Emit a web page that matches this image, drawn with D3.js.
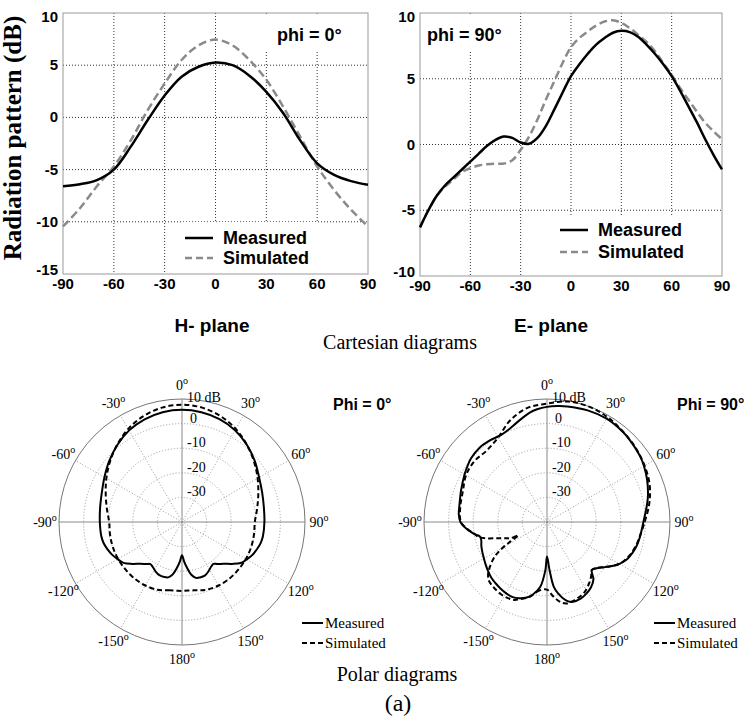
<!DOCTYPE html>
<html><head><meta charset="utf-8">
<script src="https://cdn.jsdelivr.net/npm/d3@7"></script>
<style>body{margin:0;background:#fff;} svg{display:block;}</style>
</head><body>
<svg id="chart" width="744" height="723"></svg>
<script>
// ---------- Cartesian data ----------
const hAngles = [-90,-80,-70,-60,-50,-40,-30,-20,-10,0,10,20,30,40,50,60,70,80,90];
const hMeasured = [-6.6,-6.4,-6.0,-5.0,-2.8,-0.25,2.1,3.9,4.85,5.25,5.0,4.0,2.45,0.4,-2.2,-4.4,-5.5,-6.1,-6.45];
const hSimulated = [-10.45,-8.7,-6.6,-4.7,-2.2,0.7,3.25,5.5,6.9,7.45,6.9,5.5,3.6,1.0,-1.85,-4.7,-6.95,-8.85,-10.45];

const eAngles = [-90,-85,-80,-75,-70,-65,-60,-55,-50,-45,-40,-35,-30,-25,-20,-15,-10,-5,0,5,10,15,20,25,30,35,40,45,50,55,60,65,70,75,80,85,90];
const eMeasured = [-6.3,-5.0,-3.9,-3.1,-2.5,-1.9,-1.3,-0.7,-0.1,0.35,0.6,0.5,0.15,0.05,0.5,1.4,2.65,3.95,5.2,6.1,6.9,7.6,8.1,8.5,8.65,8.55,8.2,7.6,6.9,6.1,5.2,4.1,2.9,1.7,0.4,-0.8,-1.9];
const eSimulated = [-6.3,-5.0,-3.9,-3.2,-2.65,-2.1,-1.8,-1.6,-1.5,-1.45,-1.45,-1.2,-0.4,0.6,1.9,3.4,4.8,6.2,7.4,8.1,8.6,9.05,9.35,9.45,9.25,8.85,8.35,7.8,7.1,6.2,5.3,4.3,3.4,2.5,1.65,1.0,0.4];

const xTicks = [-90,-60,-30,0,30,60,90];
const hYTicks = [10,5,0,-5,-10,-15];
const eYTicks = [10,5,0,-5,-10];

// ---------- Polar data ----------
const hpAngles = [-177,-174,-170,-166,-162,-157,-152,-147,-143,-140,-135,-130,-125,-120,-115,-110,-105,-100,-90,-80,-70,-60,-50,-40,-30,-20,-10,0,10,20,30,40,50,60,70,80,90,100,105,110,115,120,125,130,135,140,143,147,152,157,162,166,170,174,177,180];
const hpMeasured = [-24,-21.5,-18.4,-16.8,-16.5,-16.5,-17.2,-18.2,-18.6,-17.7,-16.0,-13.5,-11.0,-9.8,-8.6,-7.7,-7.0,-6.7,-6.6,-6.2,-5.3,-3.6,-1.4,0.9,3.0,4.4,5.3,5.6,5.3,4.5,3.1,1.0,-1.4,-3.8,-5.3,-6.2,-6.5,-6.6,-6.9,-7.6,-8.4,-9.6,-10.9,-13.5,-16.0,-17.7,-18.7,-18.3,-17.2,-16.3,-16.3,-16.6,-18.2,-21.5,-24,-26.5];

const hpsAngles = [-175,-170,-165,-160,-150,-140,-130,-120,-110,-100,-90,-80,-70,-60,-50,-40,-30,-20,-10,0,10,20,30,40,50,60,70,80,90,100,110,120,130,140,150,160,165,170,175,180];
const hpSimulated = [-12.0,-11.8,-11.3,-10.7,-10.2,-10.0,-10.0,-10.0,-10.1,-10.3,-10.4,-9.0,-7.0,-4.5,-1.8,1.0,3.7,5.8,7.2,7.7,7.2,5.8,3.7,1.0,-1.8,-4.5,-7.0,-9.0,-10.4,-10.3,-10.1,-10.0,-10.0,-10.0,-10.2,-10.7,-11.3,-11.8,-12.0,-12.0];

const epAngles = [-178,-174,-169,-165,-160,-155,-150,-145,-140,-135,-130,-125,-120,-115,-110,-105,-102,-100,-97,-95,-90,-85,-80,-74,-70,-60,-55,-50,-42,-35,-28,-22,-19,-14,-9,-5,0,5,10,20,30,40,45,55,60,67,75,80,90,100,105,110,115,120,124,127,130,133,137,141,146,151,156,162,165,168,171,174,177,180];
const epMeasured = [-20.3,-13.4,-10.0,-8.2,-7.0,-6.4,-6.6,-7.0,-7.5,-8.0,-8.8,-9.6,-10.4,-11.0,-11.6,-12.3,-12.0,-10.5,-8.5,-7.3,-4.8,-4.0,-3.8,-3.3,-2.8,-1.3,-0.5,0.3,0.8,0.5,0.0,0.8,1.6,3.2,5.0,6.0,6.8,7.3,7.7,8.3,8.5,7.9,7.4,6.3,5.5,4.2,2.5,1.3,-0.8,-1.8,-2.3,-3.1,-4.1,-6.0,-8.0,-9.7,-11.2,-12.4,-13.3,-10.0,-8.0,-6.8,-6.0,-5.9,-6.6,-8.2,-10.5,-13.5,-20.5,-26];

const epsAngles = [-180,-174,-167,-160,-157,-152,-147,-142,-138,-135,-131,-128,-124,-121,-118,-115,-114,-112,-110,-108,-105,-102,-100,-95,-90,-80,-70,-60,-50,-40,-30,-20,-10,0,10,20,30,40,50,60,70,80,90,100,105,112,120,127,133,137,141,146,152,157,162,166,170,175];
const epSimulated = [-12.5,-12.1,-8.8,-6.5,-5.6,-5.2,-5.2,-5.6,-6.0,-6.5,-8.3,-10.6,-14.0,-17.8,-23.2,-27.2,-23.7,-22.3,-20.6,-18.6,-14.4,-11.3,-10.5,-7.5,-5.0,-4.2,-3.6,-2.0,-1.5,-2.0,-0.3,3.9,7.0,8.1,9.7,9.9,9.2,8.0,7.0,5.8,4.4,2.2,-0.3,-2.0,-2.6,-3.8,-6.0,-9.7,-12.6,-13.3,-11.5,-9.6,-7.6,-6.8,-6.2,-5.9,-6.8,-9.5];

const ringLevels = [-30,-20,-10,0,10];
const spokeAngles = [0,30,60,90,120,150,180,210,240,270,300,330];
const angleLabels = [0,30,60,90,120,150,180,-150,-120,-90,-60,-30];

// ---------- Drawing ----------
const svg = d3.select("#chart");
const SANS = "'Liberation Sans', Arial, sans-serif";
const SERIF = "'Liberation Serif', 'Times New Roman', serif";

function cartesian(o) {
  const g = svg.append("g");
  const x = d3.scaleLinear().domain([-90, 90]).range([o.x0, o.x1]);
  const y = d3.scaleLinear().domain([o.ymin, 10]).range([o.y1, o.y0]);
  g.selectAll(".vg").data(xTicks.slice(1, -1)).join("line")
    .attr("x1", d => x(d)).attr("x2", d => x(d)).attr("y1", o.y0).attr("y2", o.y1)
    .attr("stroke", "#333").attr("stroke-width", 1).attr("stroke-dasharray", "1,2");
  g.selectAll(".hg").data(o.yTicks.slice(1, -1)).join("line")
    .attr("x1", o.x0).attr("x2", o.x1).attr("y1", d => y(d)).attr("y2", d => y(d))
    .attr("stroke", "#333").attr("stroke-width", 1).attr("stroke-dasharray", "1,2");
  g.append("rect").attr("x", o.phiBox[0]).attr("y", o.phiBox[1]).attr("width", o.phiBox[2]).attr("height", o.phiBox[3]).attr("fill", "#fff");
  g.append("rect").attr("x", o.legBox[0]).attr("y", o.legBox[1]).attr("width", o.legBox[2]).attr("height", o.legBox[3]).attr("fill", "#fff");
  g.append("rect").attr("x", o.x0).attr("y", o.y0).attr("width", o.x1 - o.x0).attr("height", o.y1 - o.y0)
    .attr("fill", "none").attr("stroke", "#999").attr("stroke-width", 1);
  g.selectAll(".xt").data(xTicks).join("text")
    .attr("x", d => x(d)).attr("y", o.y1 + 15).attr("text-anchor", "middle")
    .attr("font-family", SANS).attr("font-weight", "bold").attr("font-size", 15)
    .text(d => d);
  g.selectAll(".yt").data(o.yTicks).join("text")
    .attr("x", o.x0 - 5)
    .attr("y", d => Math.min(Math.max(y(d), o.y0 + 4), o.y1 - 4) + 5)
    .attr("text-anchor", "end")
    .attr("font-family", SANS).attr("font-weight", "bold").attr("font-size", 15)
    .text(d => d);
  const line = d3.line().x(d => x(d[0])).y(d => y(d[1])).curve(d3.curveCatmullRom.alpha(0.5));
  g.append("path").attr("d", line(o.angles.map((a, i) => [a, o.sim[i]])))
    .attr("fill", "none").attr("stroke", "#8a8a8a").attr("stroke-width", 2.5).attr("stroke-dasharray", "8,4");
  g.append("path").attr("d", line(o.angles.map((a, i) => [a, o.meas[i]])))
    .attr("fill", "none").attr("stroke", "#000").attr("stroke-width", 2.5);
  g.append("text").attr("x", o.phiPos[0]).attr("y", o.phiPos[1])
    .attr("font-family", SANS).attr("font-weight", "bold").attr("font-size", 18).text(o.phiText);
  const L = o.leg;
  g.append("line").attr("x1", L.x).attr("x2", L.x + 28).attr("y1", L.y1).attr("y2", L.y1)
    .attr("stroke", "#000").attr("stroke-width", 2.5);
  g.append("line").attr("x1", L.x).attr("x2", L.x + 28).attr("y1", L.y2).attr("y2", L.y2)
    .attr("stroke", "#8a8a8a").attr("stroke-width", 2.5).attr("stroke-dasharray", "7,4");
  g.append("text").attr("x", L.x + 38).attr("y", L.y1 + 6).attr("font-family", SANS).attr("font-weight", "bold").attr("font-size", 18).text("Measured");
  g.append("text").attr("x", L.x + 38).attr("y", L.y2 + 6).attr("font-family", SANS).attr("font-weight", "bold").attr("font-size", 18).text("Simulated");
}

cartesian({x0: 63, x1: 368, y0: 13, y1: 274, ymin: -15, yTicks: hYTicks,
  angles: hAngles, meas: hMeasured, sim: hSimulated,
  phiBox: [262, 14, 104, 36], legBox: [181, 222, 137, 51],
  phiPos: [277, 41], phiText: "phi = 0°", leg: {x: 185, y1: 238, y2: 258}});
cartesian({x0: 420, x1: 722, y0: 13, y1: 276, ymin: -10, yTicks: eYTicks,
  angles: eAngles, meas: eMeasured, sim: eSimulated,
  phiBox: [421, 14, 92, 36], legBox: [556, 216, 164, 59],
  phiPos: [427, 41], phiText: "phi = 90°", leg: {x: 560, y1: 230, y2: 252}});

svg.append("text").attr("transform", "translate(21,138) rotate(-90)")
  .attr("text-anchor", "middle").attr("font-family", SERIF).attr("font-weight", "bold").attr("font-size", 25)
  .text("Radiation pattern (dB)");

svg.append("text").attr("x", 212).attr("y", 332).attr("text-anchor", "middle")
  .attr("font-family", SANS).attr("font-weight", "bold").attr("font-size", 19).text("H- plane");
svg.append("text").attr("x", 551).attr("y", 332).attr("text-anchor", "middle")
  .attr("font-family", SANS).attr("font-weight", "bold").attr("font-size", 19).text("E- plane");
svg.append("text").attr("x", 400).attr("y", 349).attr("text-anchor", "middle")
  .attr("font-family", SERIF).attr("font-size", 20).text("Cartesian diagrams");

// ---------- Polar ----------
const R = 123;
const r = d3.scaleLinear().domain([-40, 10]).range([0, R]);

function polar(o) {
  const g = svg.append("g").attr("transform", `translate(${o.cx},${o.cy})`);
  g.selectAll(".ring").data(ringLevels).join("circle")
    .attr("r", d => r(d)).attr("fill", "none")
    .attr("stroke", d => d === 10 ? "#777" : "#999").attr("stroke-width", 1)
    .attr("stroke-dasharray", d => d === 10 ? null : "1,2");
  g.selectAll(".spoke").data(spokeAngles).join("line")
    .attr("x1", 0).attr("y1", 0)
    .attr("x2", d => R * Math.sin(d * Math.PI / 180)).attr("y2", d => -R * Math.cos(d * Math.PI / 180))
    .attr("stroke", d => d % 90 === 0 ? "#888" : "#999").attr("stroke-width", 1)
    .attr("stroke-dasharray", d => d % 90 === 0 ? null : "1,2");
  g.selectAll(".rl").data(ringLevels).join("text")
    .attr("x", d => d === 0 ? 8 : 5)
    .attr("y", d => -r(d) + (d === 10 ? 3 : -1))
    .attr("font-family", SERIF).attr("font-size", 14)
    .text(d => d === 10 ? "10 dB" : d);
  const al = g.selectAll(".al").data(angleLabels).join("text")
    .attr("x", d => 137 * Math.sin(d * Math.PI / 180))
    .attr("y", d => -137 * Math.cos(d * Math.PI / 180) + 5)
    .attr("text-anchor", "middle").attr("font-family", SERIF).attr("font-size", 14);
  al.append("tspan").text(d => d);
  al.append("tspan").attr("font-size", 10).attr("dy", -6).text("o");
  const lr = d3.lineRadial().angle(d => d[0] * Math.PI / 180).radius(d => r(d[1]))
    .curve(d3.curveCatmullRomClosed.alpha(0.5));
  g.append("path").attr("d", lr(o.sa.map((a, i) => [a, o.sv[i]])))
    .attr("fill", "none").attr("stroke", "#000").attr("stroke-width", 2).attr("stroke-dasharray", "5,3");
  g.append("path").attr("d", lr(o.ma.map((a, i) => [a, o.mv[i]])))
    .attr("fill", "none").attr("stroke", "#000").attr("stroke-width", 2);
  svg.append("text").attr("x", o.phiX).attr("y", 410)
    .attr("font-family", SANS).attr("font-weight", "bold").attr("font-size", 16).text(o.phi);
  svg.append("line").attr("x1", o.legX).attr("x2", o.legX + 21).attr("y1", 623).attr("y2", 623)
    .attr("stroke", "#000").attr("stroke-width", 2);
  svg.append("line").attr("x1", o.legX).attr("x2", o.legX + 21).attr("y1", 643).attr("y2", 643)
    .attr("stroke", "#000").attr("stroke-width", 2).attr("stroke-dasharray", "5,3");
  svg.append("text").attr("x", o.legX + 23).attr("y", 628).attr("font-family", SERIF).attr("font-size", 15).text("Measured");
  svg.append("text").attr("x", o.legX + 23).attr("y", 648).attr("font-family", SERIF).attr("font-size", 15).text("Simulated");
}

polar({cx: 182, cy: 522, ma: hpAngles, mv: hpMeasured, sa: hpsAngles, sv: hpSimulated, phiX: 333, phi: "Phi = 0°", legX: 302});
polar({cx: 547, cy: 522, ma: epAngles, mv: epMeasured, sa: epsAngles, sv: epSimulated, phiX: 677, phi: "Phi = 90°", legX: 654});

svg.append("text").attr("x", 397).attr("y", 681).attr("text-anchor", "middle")
  .attr("font-family", SERIF).attr("font-size", 20).text("Polar diagrams");
svg.append("text").attr("x", 398).attr("y", 711).attr("text-anchor", "middle")
  .attr("font-family", SERIF).attr("font-size", 24).text("(a)");
</script>
</body></html>
